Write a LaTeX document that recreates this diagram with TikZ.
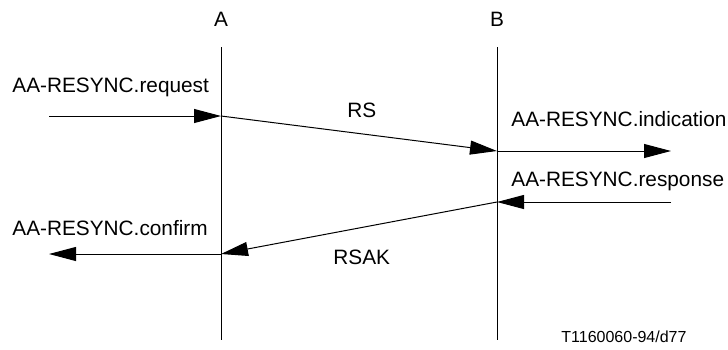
\documentclass[tikz,border=0pt]{standalone}
\usepackage{fontspec}
\setmainfont{Liberation Sans}
\usetikzlibrary{arrows.meta,positioning}
\tikzset{
  lifeline/.style={line width=0.5pt},
  msg/.style={line width=0.5pt, -{Triangle[length=13.5pt,width=7pt]}},
  lbl/.style={inner sep=0pt, anchor=base west, font=\fontsize{10.4}{12}\selectfont},
  ent/.style={inner sep=0pt, anchor=base, font=\fontsize{10.4}{12}\selectfont},
  ref/.style={inner sep=0pt, anchor=base west, font=\fontsize{8}{10}\selectfont}
}

\begin{document}
\begin{tikzpicture}[x=0.5pt, y=-0.5pt]
  \useasboundingbox (0,0) rectangle (728,349);

  % entities and lifelines
  \node [ent] (A) at (221,26) {A};
  \node [ent] (B) at (497,26) {B};
  \coordinate (Atop) at (221,47);
  \coordinate (Abot) at (221,340);
  \coordinate (Btop) at (497,47);
  \coordinate (Bbot) at (497,340);
  \draw [lifeline] (Atop) -- (Abot);
  \draw [lifeline] (Btop) -- (Bbot);

  % message points
  \coordinate (reqin) at (49,116);
  \coordinate (Areq) at (221,116);
  \coordinate (Bind) at (497,151);
  \coordinate (indout) at (671,151);
  \coordinate (rspin) at (671,202);
  \coordinate (Brsp) at (497,202);
  \coordinate (Acnf) at (221,254);
  \coordinate (cnfout) at (49,254);

  \draw [msg] (reqin) -- (Areq);
  \draw [msg] (Areq) -- (Bind);
  \draw [msg] (Bind) -- (indout);
  \draw [msg] (rspin) -- (Brsp);
  \draw [msg] (Brsp) -- (Acnf);
  \draw [msg] (Acnf) -- (cnfout);

  % labels
  \node [lbl] (request) at (12,92) {AA-RESYNC.request};
  \node [lbl] (rs) at (347,117) {RS};
  \node [lbl] (indication) at (511,126) {AA-RESYNC.indication};
  \node [lbl] (response) at (511,186) {AA-RESYNC.response};
  \node [lbl] (confirm) at (12,235) {AA-RESYNC.confirm};
  \node [lbl] (rsak) at (333,264) {RSAK};
  \node [ref] (figref) at (561,342) {T1160060-94/d77};
\end{tikzpicture}
\end{document}
